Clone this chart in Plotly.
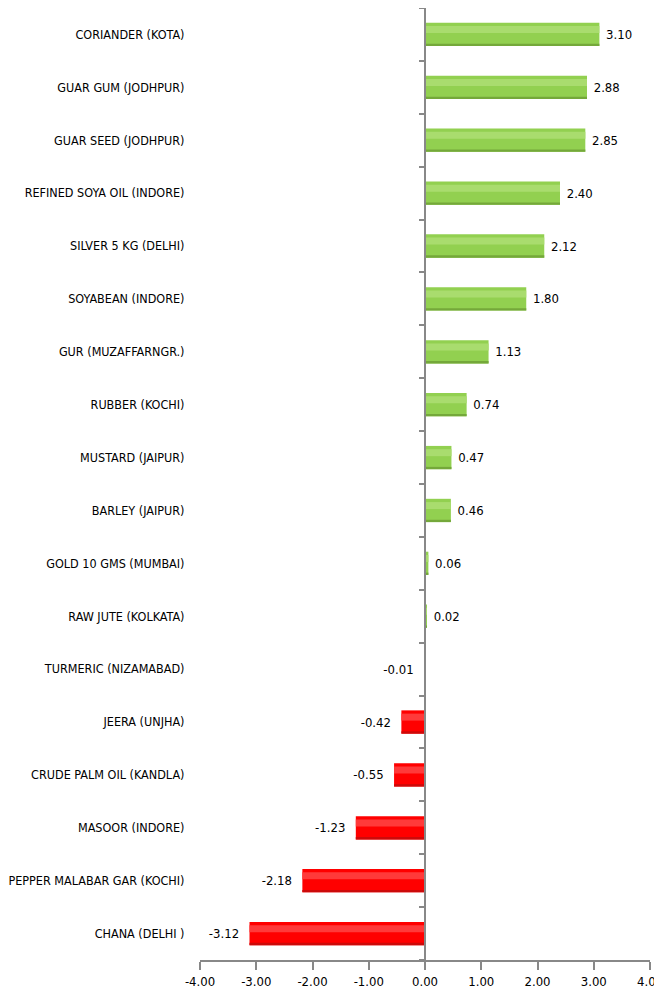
import plotly.graph_objects as go

categories = [
    "CORIANDER (KOTA)", "GUAR GUM (JODHPUR)", "GUAR SEED (JODHPUR)",
    "REFINED SOYA OIL (INDORE)", "SILVER 5 KG (DELHI)", "SOYABEAN (INDORE)",
    "GUR (MUZAFFARNGR.)", "RUBBER (KOCHI)", "MUSTARD (JAIPUR)", "BARLEY (JAIPUR)",
    "GOLD 10 GMS (MUMBAI)", "RAW JUTE (KOLKATA)", "TURMERIC (NIZAMABAD)",
    "JEERA (UNJHA)", "CRUDE PALM OIL (KANDLA)", "MASOOR (INDORE)",
    "PEPPER MALABAR GAR (KOCHI)", "CHANA (DELHI )",
]
values = [3.10, 2.88, 2.85, 2.40, 2.12, 1.80, 1.13, 0.74, 0.47, 0.46,
          0.06, 0.02, -0.01, -0.42, -0.55, -1.23, -2.18, -3.12]
x_ticks = [-4, -3, -2, -1, 0, 1, 2, 3, 4]
x_tick_labels = ["%.2f" % v for v in x_ticks]

FONT = "DejaVu Sans Condensed, Liberation Sans Narrow, sans-serif"
NB = "\u00a0"
pos = [v >= 0 for v in values]
fill = ["#92D050" if p else "#FF0000" for p in pos]
light = ["#A9DC6E" if p else "#FF3A3A" for p in pos]
dark = ["#74A83A" if p else "#CC0A0A" for p in pos]
labels = [(NB + "%.2f" % v) if p else ("%.2f" % v + NB + NB) for v, p in zip(values, pos)]

BW = 0.44  # bar thickness in category units

fig = go.Figure()
# main bar body (with value labels)
fig.add_trace(go.Bar(
    x=values, y=categories, orientation="h",
    width=BW, offset=-BW / 2,
    marker=dict(color=fill, line=dict(width=0)),
    text=labels, textposition="outside", texttemplate="%{text}",
    textfont=dict(family=FONT, size=13, color="#000000"),
    cliponaxis=False, showlegend=False,
))
# lighter upper band (bevel look)
fig.add_trace(go.Bar(
    x=values, y=categories, orientation="h",
    width=BW * 0.3, offset=BW * 0.06,
    marker=dict(color=light, line=dict(width=0)),
    hoverinfo="skip", showlegend=False,
))
# darker lower edge
fig.add_trace(go.Bar(
    x=values, y=categories, orientation="h",
    width=BW * 0.1, offset=-BW / 2,
    marker=dict(color=dark, line=dict(width=0)),
    hoverinfo="skip", showlegend=False,
))
# invisible twin for the y-axis line at zero
fig.add_trace(go.Bar(
    x=values, y=categories, orientation="h", yaxis="y2",
    marker=dict(color="rgba(0,0,0,0)", line=dict(width=0)), opacity=0,
    hoverinfo="skip", showlegend=False,
))

fig.update_layout(
    width=654, height=1000,
    margin=dict(l=192, r=12, t=0, b=48),
    paper_bgcolor="white", plot_bgcolor="white",
    barmode="overlay",
    font=dict(family=FONT, size=13, color="#000000"),
    xaxis=dict(
        range=[-4, 4], tickvals=x_ticks, ticktext=x_tick_labels,
        showgrid=False, zeroline=False, automargin=False,
        showline=True, linecolor="#888888", linewidth=2,
        ticks="outside", ticklen=8, tickwidth=2, tickcolor="#888888",
        ticklabeloverflow="allow",
        tickfont=dict(family=FONT, size=13, color="#000000"),
    ),
    yaxis=dict(
        categoryorder="array", categoryarray=categories[::-1],
        showgrid=False, zeroline=False, showline=False, automargin=False,
        ticks="outside", ticklen=12, tickcolor="rgba(0,0,0,0)",
        ticklabeloverflow="allow",
        tickfont=dict(family=FONT, size=12.5, color="#000000"),
    ),
    yaxis2=dict(
        overlaying="y", anchor="free", position=0.5, side="left",
        categoryorder="array", categoryarray=categories[::-1],
        showgrid=False, zeroline=False, showticklabels=False, automargin=False,
        showline=True, linecolor="#888888", linewidth=2,
        ticks="outside", ticklen=5, tickwidth=2, tickcolor="#888888",
        tickson="boundaries",
    ),
)

fig.write_html("out.html")
